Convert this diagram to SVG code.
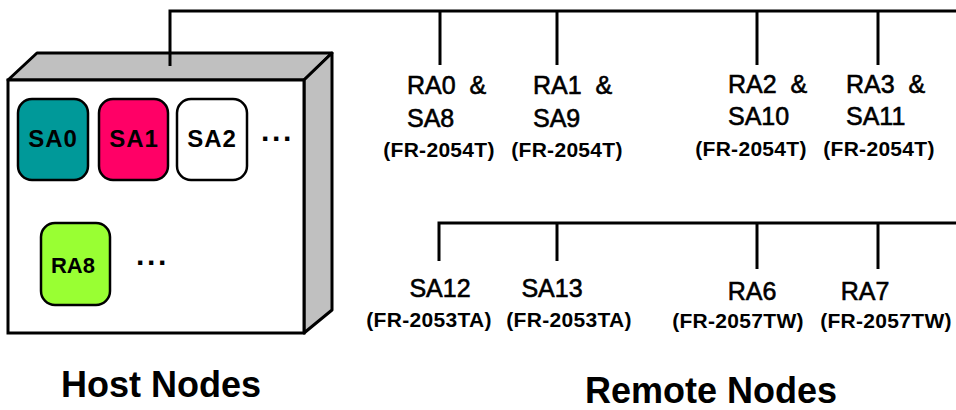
<svg xmlns="http://www.w3.org/2000/svg" width="956" height="410" viewBox="0 0 956 410">
<style>
.ln{stroke:#000;stroke-width:3;fill:none}
.box{stroke:#000;stroke-width:2.5}
.in{font-family:"Liberation Sans",Arial,sans-serif;font-weight:bold;font-size:24px;text-anchor:middle;fill:#000}
.lb{font-family:"Liberation Sans",Arial,sans-serif;font-size:25px;fill:#000;stroke:#000;stroke-width:0.6}
.sub{font-family:"Liberation Sans",Arial,sans-serif;font-weight:bold;font-size:21px;text-anchor:middle;fill:#000;letter-spacing:0.3px}
.ttl{font-family:"Liberation Sans",Arial,sans-serif;font-weight:bold;font-size:36px;fill:#000}
.dots{font-family:"Liberation Sans",Arial,sans-serif;font-weight:bold;font-size:30px;fill:#000;letter-spacing:1px}
</style>
<rect width="956" height="410" fill="#fff"/>
<g id="connectors">
<polyline class="ln" points="170,66 170,11 956,11"/>
<line class="ln" x1="440" y1="11" x2="440" y2="65"/>
<line class="ln" x1="557" y1="11" x2="557" y2="65"/>
<line class="ln" x1="757" y1="11" x2="757" y2="65"/>
<line class="ln" x1="878" y1="11" x2="878" y2="65"/>
<polyline class="ln" points="439,261 439,223 956,223"/>
<line class="ln" x1="557" y1="223" x2="557" y2="261"/>
<line class="ln" x1="757" y1="223" x2="757" y2="269"/>
<line class="ln" x1="878" y1="223" x2="878" y2="269"/>
</g>
<g id="host">
<polygon points="8,80 37,53 332,53 304,80" fill="#c0c0c0" stroke="#000" stroke-width="3" stroke-linejoin="round"/>
<polygon points="304,80 332,53 332,310 304,333" fill="#c0c0c0" stroke="#000" stroke-width="3" stroke-linejoin="round"/>
<rect x="8" y="80" width="296" height="253" fill="#fff" stroke="#000" stroke-width="3"/>
<line class="ln" x1="170" y1="53" x2="170" y2="66"/>
</g>
<g id="sa0"><rect class="box" x="18" y="99" width="70" height="81" rx="14" fill="#009999"/><text class="in" x="53" y="147" letter-spacing="1">SA0</text></g>
<g id="sa1"><rect class="box" x="99" y="99" width="69" height="81" rx="14" fill="#ff0066"/><text class="in" x="134" y="147" letter-spacing="1">SA1</text></g>
<g id="sa2"><rect class="box" x="177" y="99" width="70" height="81" rx="14" fill="#fff"/><text class="in" x="212" y="147" letter-spacing="1">SA2</text></g>
<text class="dots" x="261" y="149">···</text>
<g id="ra8"><rect class="box" x="41" y="223" width="69" height="82" rx="14" fill="#99ff33"/><text class="in" x="73" y="273" style="font-size:22px">RA8</text></g>
<text class="dots" x="136" y="273">···</text>
<text class="ttl" x="61" y="397">Host Nodes</text>
<g id="ra0"><text class="lb" x="407" y="94" xml:space="preserve">RA0  &amp;</text><text class="lb" x="407" y="127">SA8</text><text class="sub" x="439" y="157">(FR-2054T)</text></g>
<g id="ra1"><text class="lb" x="533" y="94" xml:space="preserve">RA1  &amp;</text><text class="lb" x="533" y="127">SA9</text><text class="sub" x="567" y="157">(FR-2054T)</text></g>
<g id="ra2"><text class="lb" x="728" y="93" xml:space="preserve">RA2  &amp;</text><text class="lb" x="728" y="125">SA10</text><text class="sub" x="751" y="156">(FR-2054T)</text></g>
<g id="ra3"><text class="lb" x="846" y="93" xml:space="preserve">RA3  &amp;</text><text class="lb" x="846" y="125">SA11</text><text class="sub" x="879" y="156">(FR-2054T)</text></g>
<g id="sa12"><text class="lb" x="440" y="297" text-anchor="middle">SA12</text><text class="sub" x="429" y="327">(FR-2053TA)</text></g>
<g id="sa13"><text class="lb" x="552" y="297" text-anchor="middle">SA13</text><text class="sub" x="569" y="327">(FR-2053TA)</text></g>
<g id="ra6"><text class="lb" x="752" y="300" text-anchor="middle">RA6</text><text class="sub" x="738" y="328">(FR-2057TW)</text></g>
<g id="ra7"><text class="lb" x="865" y="300" text-anchor="middle">RA7</text><text class="sub" x="886" y="328">(FR-2057TW)</text></g>
<text class="ttl" x="585" y="403">Remote Nodes</text>
</svg>
